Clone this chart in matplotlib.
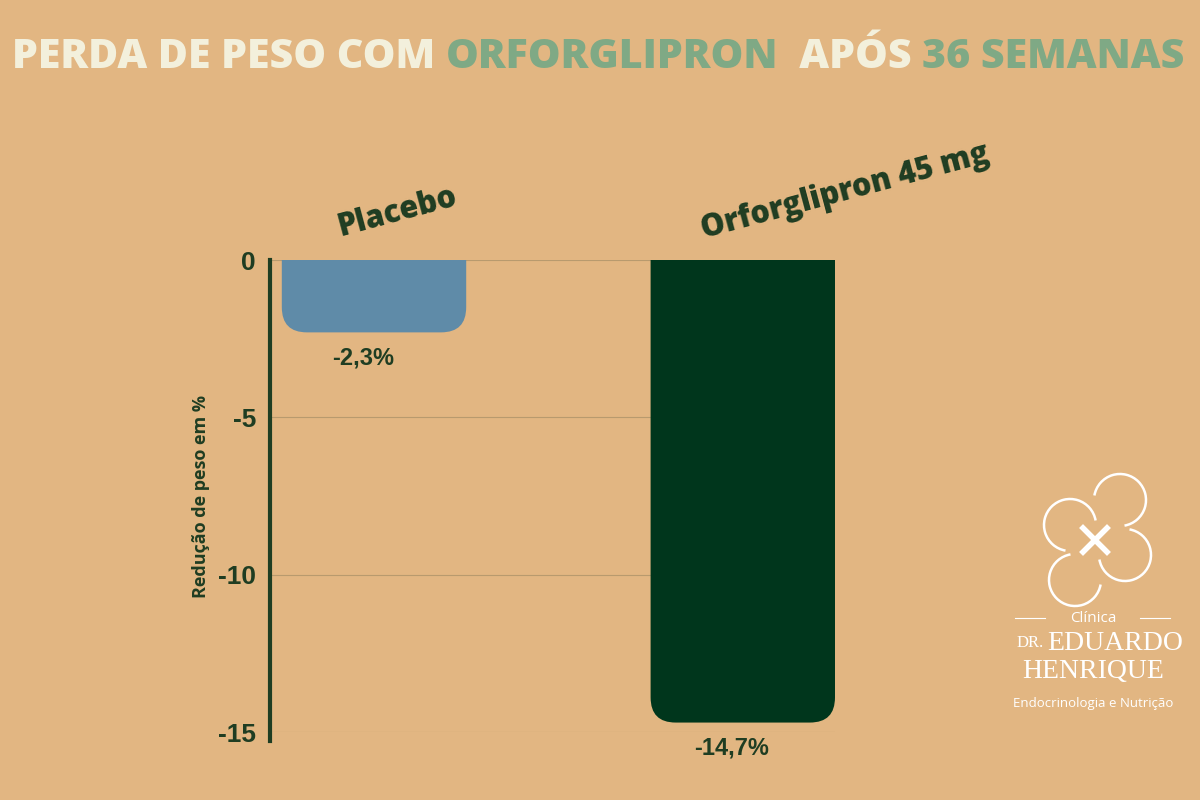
import matplotlib
matplotlib.use('Agg')
import matplotlib.pyplot as plt
from matplotlib.patches import FancyBboxPatch, Arc
import numpy as np

plt.rcParams['font.family'] = ['Open Sans', 'DejaVu Sans']

categories = ['Placebo', 'Orforglipron 45 mg']
values = [-2.3, -14.7]
value_labels = ['-2,3%', '-14,7%']
yticks = [0, -5, -10, -15]

bg = '#E2B682'
dark = '#1F3D22'
cream = '#F3F0DC'
sage = '#7FA985'
bar_colors = ['#5F8BA8', '#00361C']

fig = plt.figure(figsize=(12, 8), dpi=100, facecolor=bg)
ax = fig.add_axes([270/1200, 1-732/800, 565/1200, 472/800])
ax.set_facecolor(bg)
ax.set_xlim(-0.282, 1.25)
ax.set_ylim(-15, 0)

w = 0.5
rx = 0.068
ry = 0.8
for i, (v, c) in enumerate(zip(values, bar_colors)):
    p = FancyBboxPatch((i - w/2 + rx, v + ry), w - 2*rx, -v + 2 - 2*ry,
                       boxstyle=f'round,pad={rx},rounding_size={rx}',
                       mutation_aspect=ry/rx, fc=c, ec='none', zorder=3)
    ax.add_patch(p)
    ax.text(i - 0.03, v - 0.45, value_labels[i], ha='center', va='top',
            fontsize=17, fontweight='bold', color=dark, family='Liberation Sans')

for y in yticks:
    ax.axhline(y, color='#B89A6E', lw=0.8, zorder=1)

ax.set_yticks(yticks)
ax.set_yticklabels([str(t) for t in yticks], fontsize=19, fontweight='bold',
                   color=dark, family='Liberation Sans')
ax.tick_params(axis='y', length=0, pad=10)
ax.set_xticks([])
for s in ['top', 'right', 'bottom']:
    ax.spines[s].set_visible(False)
ax.spines['left'].set_color(dark)
ax.spines['left'].set_linewidth(3)
ax.spines['left'].set_bounds(-15.3, 0)
ax.set_ylabel('Redução de peso em %', fontsize=13, fontweight='bold', color=dark, labelpad=6)

# category labels, tilted
fig.text(398/1200, 1-212/800, categories[0], rotation=15, ha='center', va='center',
         fontsize=22, fontweight='heavy', color=dark)
fig.text(845/1200, 1-192/800, categories[1], rotation=15, ha='center', va='center',
         fontsize=22, fontweight='heavy', color=dark)

# title with mixed colours
parts = [('PERDA DE PESO COM ', cream), ('ORFORGLIPRON', sage), ('  APÓS ', cream), ('36 SEMANAS', sage)]
fig.canvas.draw()
r = fig.canvas.get_renderer()
x = 12
for t, c in parts:
    txt = fig.text(x/1200, 1-57/800, t, fontsize=29.6, fontweight='heavy', color=c, va='center')
    x += txt.get_window_extent(r).width

# logo
cx, cy = 1095, 540
lax = fig.add_axes([0, 0, 1, 1], facecolor='none')
lax.set_xlim(0, 1200)
lax.set_ylim(800, 0)
lax.axis('off')
for dx, dy, a1, a2 in [(-25, -15, 100, 350), (25, -40, 190, 80), (30, 15, 280, 170), (-20, 40, 10, 260)]:
    lax.add_patch(Arc((cx + dx, cy + dy), 52, 52, theta1=a1, theta2=a2, color='white', lw=1.8))
lax.plot([cx - 12, cx + 12], [cy - 12, cy + 12], color='white', lw=4)
lax.plot([cx - 12, cx + 12], [cy + 12, cy - 12], color='white', lw=4)
lax.plot([1015, 1045], [618, 618], color='white', lw=0.8)
lax.plot([1140, 1170], [618, 618], color='white', lw=0.8)
lax.text(1093, 618, 'Clínica', color='white', fontsize=11, ha='center', va='center')
lax.text(1044, 643, 'DR.', color='white', fontsize=12, ha='right', va='center', family='Liberation Serif')
lax.text(1047, 643, 'EDUARDO', color='white', fontsize=20, ha='left', va='center', family='Liberation Serif')
lax.text(1093, 672, 'HENRIQUE', color='white', fontsize=20, ha='center', va='center', family='Liberation Serif')
lax.text(1093, 703, 'Endocrinologia e Nutrição', color='white', fontsize=9.5, ha='center', va='center')

fig.savefig('out.png', dpi=100, facecolor=bg)
